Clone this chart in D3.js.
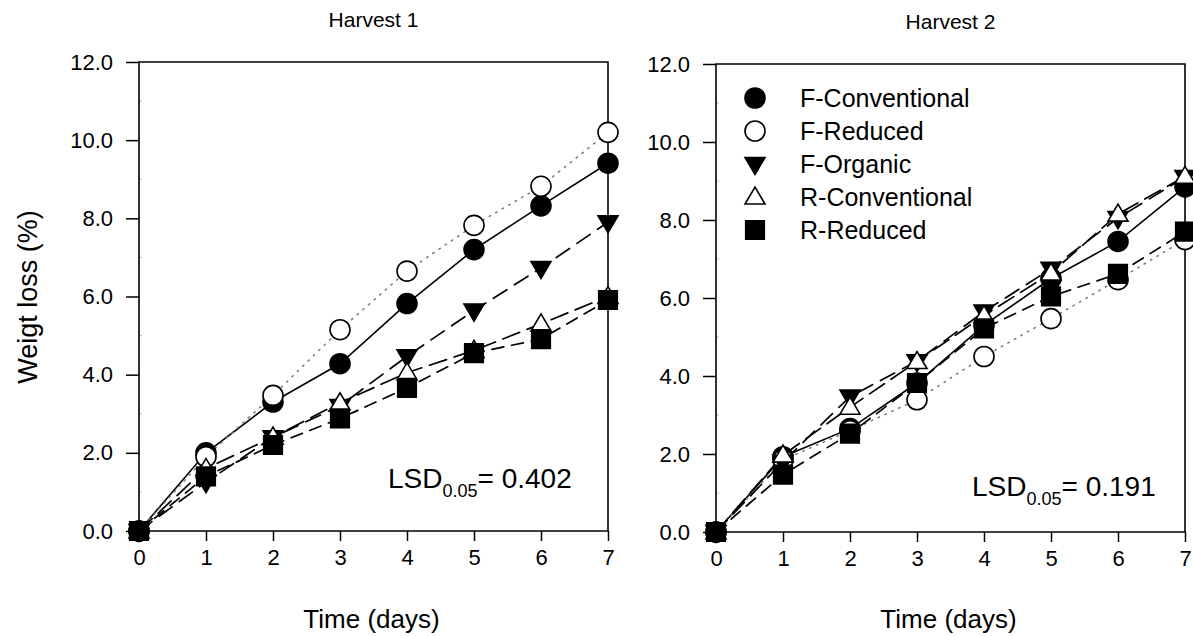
<!DOCTYPE html>
<html>
<head>
<meta charset="utf-8">
<script src="https://cdn.jsdelivr.net/npm/d3@7"></script>
<style>
  body { margin: 0; background: #fff; }
  svg { font-family: "Liberation Sans", Arial, sans-serif; }
</style>
</head>
<body>
<svg id="chart" width="1193" height="636"></svg>
<script>
// days on the x axis
var days = [0, 1, 2, 3, 4, 5, 6, 7];
var yTicks = [0, 2, 4, 6, 8, 10, 12];
var yMinorTicks = [1, 3, 5, 7, 9, 11];
var seriesNames = ["F-Conventional", "F-Reduced", "F-Organic", "R-Conventional", "R-Reduced"];

// Harvest 1 values (weight loss %)
var h1FConv = [0, 2.0, 3.3, 4.28, 5.82, 7.2, 8.32, 9.41];
var h1FRed  = [0, 1.9, 3.47, 5.15, 6.65, 7.82, 8.82, 10.2];
var h1FOrg  = [0, 1.25, 2.4, 3.2, 4.47, 5.64, 6.73, 7.9];
var h1RConv = [0, 1.6, 2.4, 3.28, 4.05, 4.62, 5.3, 6.0];
var h1RRed  = [0, 1.4, 2.2, 2.88, 3.66, 4.55, 4.91, 5.91];

// Harvest 2 values
var h2FConv = [0, 1.93, 2.65, 3.82, 5.3, 6.5, 7.45, 8.85];
var h2FRed  = [0, 1.85, 2.6, 3.39, 4.5, 5.47, 6.47, 7.5];
var h2FOrg  = [0, 1.8, 3.47, 4.38, 5.65, 6.75, 8.05, 9.1];
var h2RConv = [0, 1.97, 3.2, 4.37, 5.55, 6.64, 8.15, 9.12];
var h2RRed  = [0, 1.47, 2.52, 3.82, 5.22, 6.04, 6.62, 7.7];

var lsdValues = ["0.402", "0.191"];
var titles = ["Harvest 1", "Harvest 2"];

var svg = d3.select("#chart");

// marker and line look per series
var styles = [
    { shape: "circle", fill: "#000", dash: null, color: "#000", width: 1.6 },
    { shape: "circle", fill: "#fff", dash: "1.5,6", color: "#777", width: 1.5 },
    { shape: "down", fill: "#000", dash: "16,9", color: "#000", width: 1.7 },
    { shape: "up", fill: "#fff", dash: "18,8", color: "#000", width: 1.7 },
    { shape: "square", fill: "#000", dash: "12,8", color: "#000", width: 1.7 }
];

function markerPath(shape) {
    if (shape === "down") return "M-10,-6.5L10,-6.5L0,10.5Z";
    if (shape === "up") return "M-10,7L10,7L0,-10Z";
    if (shape === "square") return "M-9.3,-9.3H9.3V9.3H-9.3Z";
    return null;
}

function drawMarker(g, shape, fill, x, y) {
    if (shape === "circle") {
        g.append("circle").attr("cx", x).attr("cy", y).attr("r", 10)
            .attr("fill", fill).attr("stroke", "#000").attr("stroke-width", 1.6);
    } else {
        g.append("path").attr("d", markerPath(shape))
            .attr("transform", "translate(" + x + "," + y + ")")
            .attr("fill", fill).attr("stroke", "#000").attr("stroke-width", 1.6);
    }
}

function makePanel(opts) {
    var x = d3.scaleLinear().domain([0, 7]).range([opts.left, opts.right]);
    var y = d3.scaleLinear().domain([0, 12]).range([opts.bottom, opts.top]);
    var g = svg.append("g");

    // axes
    var yAxis = d3.axisLeft(y).tickValues(yTicks).tickSize(13).tickPadding(13)
        .tickFormat(d3.format(".1f"));
    var xAxis = d3.axisBottom(x).tickValues(days).tickSize(10).tickPadding(8)
        .tickFormat(d3.format("d"));

    var ya = g.append("g").attr("transform", "translate(" + opts.left + ",0)").call(yAxis);
    var xa = g.append("g").attr("transform", "translate(0," + opts.bottom + ")").call(xAxis);
    [ya, xa].forEach(function (a) {
        a.select(".domain").remove();
        a.selectAll(".tick line").attr("stroke-width", 1.5);
        a.selectAll("text").attr("font-size", 22).attr("fill", "#000");
    });

    // faint minor ticks inside the left axis
    g.selectAll(".minor").data(yMinorTicks).enter().append("line")
        .attr("x1", opts.left).attr("x2", opts.left + 3)
        .attr("y1", function (d) { return y(d); }).attr("y2", function (d) { return y(d); })
        .attr("stroke", "#bbb").attr("stroke-width", 1);

    // box
    g.append("path")
        .attr("d", "M" + x(0) + "," + y(0) + "V" + y(12) + "H" + x(7) + "V" + y(0) + "H" + x(0))
        .attr("fill", "none").attr("stroke", "#000").attr("stroke-width", 1.6);

    // lines
    var line = d3.line()
        .x(function (d, i) { return x(days[i]); })
        .y(function (d) { return y(d); });

    opts.data.forEach(function (vals, k) {
        var s = styles[k];
        g.append("path").datum(vals).attr("d", line)
            .attr("fill", "none").attr("stroke", s.color)
            .attr("stroke-width", s.width)
            .attr("stroke-dasharray", s.dash)
            .attr("stroke-linecap", s.dash ? "round" : "butt");
    });
    // markers
    opts.data.forEach(function (vals, k) {
        var s = styles[k];
        vals.forEach(function (v, i) {
            drawMarker(g, s.shape, s.fill, x(days[i]), y(v));
        });
    });

    // titles
    g.append("text").attr("x", (opts.left + opts.right) / 2).attr("y", opts.titleY)
        .attr("text-anchor", "middle").attr("font-size", 21).text(opts.title);
    g.append("text").attr("x", (opts.left + opts.right) / 2 - 2).attr("y", 628)
        .attr("text-anchor", "middle").attr("font-size", 26).text("Time (days)");

    // LSD text
    var t = g.append("text").attr("x", opts.lsdX).attr("y", opts.lsdY).attr("font-size", 28);
    t.append("tspan").text("LSD");
    t.append("tspan").attr("dy", 9).attr("font-size", 18).text("0.05");
    t.append("tspan").attr("dy", -9).text("= " + opts.lsd);

    return { x: x, y: y, g: g };
}

makePanel({
    left: 139, right: 608, top: 62, bottom: 531, titleY: 27,
    data: [h1FConv, h1FRed, h1FOrg, h1RConv, h1RRed],
    title: titles[0], lsd: lsdValues[0], lsdX: 388, lsdY: 488
});

makePanel({
    left: 716, right: 1185, top: 64, bottom: 532, titleY: 29,
    data: [h2FConv, h2FRed, h2FOrg, h2RConv, h2RRed],
    title: titles[1], lsd: lsdValues[1], lsdX: 972, lsdY: 496
});

// y axis title
svg.append("text").attr("transform", "translate(37,297) rotate(-90)")
    .attr("text-anchor", "middle").attr("font-size", 27).text("Weigt loss (%)");

// legend inside Harvest 2
var legend = svg.append("g");
seriesNames.forEach(function (name, k) {
    var yy = 98 + k * 33;
    drawMarker(legend, styles[k].shape, styles[k].fill, 755, yy);
    legend.append("text").attr("x", 800).attr("y", yy + 9).attr("font-size", 25).text(name);
});
</script>
</body>
</html>
